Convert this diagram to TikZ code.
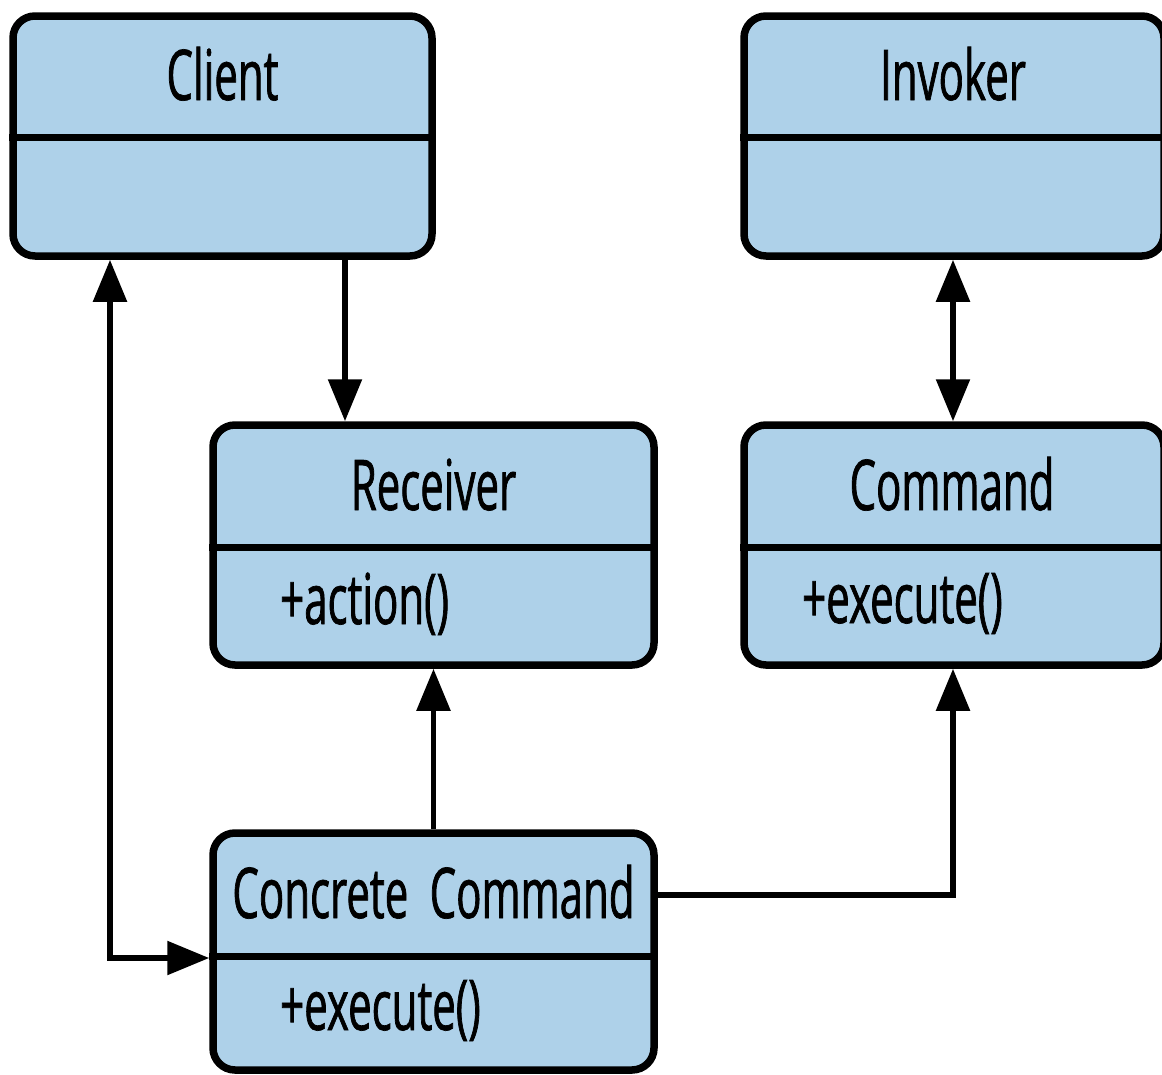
\documentclass[tikz,border=0pt]{standalone}
\usepackage{fontspec}
\setmainfont[FakeStretch=0.6]{Open Sans}
\newfontfamily\diafont[FakeStretch=0.6,FakeBold=1]{Open Sans}
\usetikzlibrary{arrows.meta}
\definecolor{boxfill}{HTML}{AED1E9}
\begin{document}
\begin{tikzpicture}[x=1pt,y=-1pt,
  classbox/.style={draw=black, fill=boxfill, line width=7.5pt, rounded corners=22pt,
    rectangle, inner sep=0pt, minimum height=240pt},
  divider/.style={draw=black, line width=7pt},
  title/.style={anchor=base, inner sep=0pt, font=\diafont\fontsize{70}{84}\selectfont},
  member/.style={anchor=base west, inner sep=0pt, font=\diafont\fontsize{70}{84}\selectfont},
  conn/.style={draw=black, line width=5.5pt},
  tip/.style={-{Triangle[width=33pt,length=42pt]}},
  tips/.style={{Triangle[width=33pt,length=42pt]}-{Triangle[width=33pt,length=42pt]}}]
\useasboundingbox (0,0) rectangle (1162,1074);
\clip (0,0) rectangle (1162,1074);

% class boxes
\node[classbox, minimum width=419pt] (client) at (222.5,136) {};
\node[classbox, minimum width=420pt] (invoker) at (954,136) {};
\node[classbox, minimum width=441pt] (receiver) at (433.5,545) {};
\node[classbox, minimum width=420pt] (command) at (954,545) {};
\node[classbox, minimum width=441pt, minimum height=237pt] (concrete) at (433.5,951.5) {};

% dividers
\draw[divider] (client.west |- 0,137) -- (client.east |- 0,137);
\draw[divider] (invoker.west |- 0,137) -- (invoker.east |- 0,137);
\draw[divider] (receiver.west |- 0,547) -- (receiver.east |- 0,547);
\draw[divider] (command.west |- 0,547) -- (command.east |- 0,547);
\draw[divider] (concrete.west |- 0,956) -- (concrete.east |- 0,956);

% texts
\node[title] (tclient) at (222.5,100) {Client};
\node[title] (tinvoker) at (953,100) {Invoker};
\node[title] (treceiver) at (433.5,510) {Receiver};
\node[title] (tcommand) at (952,510) {Command};
\node[title] (tconcrete) at (433.5,918) {Concrete\hspace{0.15em} Command};
\node[member] (maction) at (280,624) {+action()};
\node[member] (mexec) at (802,623) {+execute()};
\node[member] (mexec2) at (280,1030) {+execute()};

% connectors
\draw[conn, tip] (client.south -| 345,0) -- (receiver.north -| 345,0);
\draw[conn, tips] (invoker.south -| 953,0) -- (command.north -| 953,0);
\draw[conn, tip] (concrete.north) -- (receiver.south);
\draw[conn, tip] (concrete.east |- 0,895) -| (command.south -| 953,0);
\draw[conn, tips] (client.south -| 110,0) -- (110,958) -- (concrete.west |- 0,958);
\end{tikzpicture}
\end{document}
